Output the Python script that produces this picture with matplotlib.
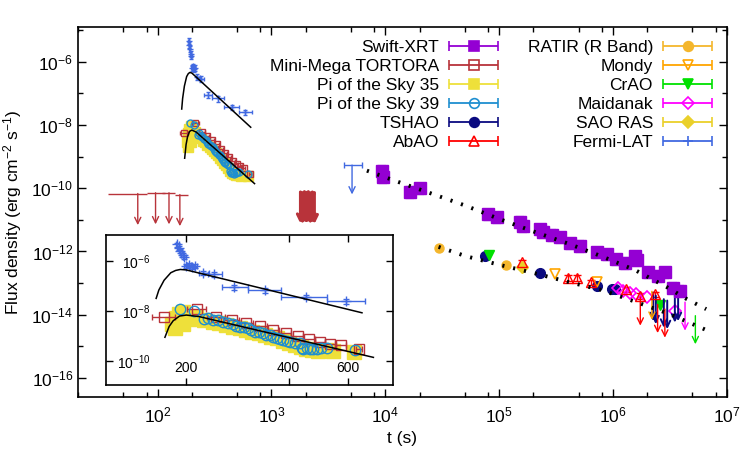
import numpy as np
import matplotlib
matplotlib.use('Agg')
import matplotlib.pyplot as plt
from matplotlib.ticker import (FixedLocator, LogFormatterMathtext, NullLocator,
                               NullFormatter, FixedFormatter)
from matplotlib.container import ErrorbarContainer
from matplotlib.legend_handler import HandlerErrorbar

plt.rcParams['font.family'] = ['Liberation Sans', 'DejaVu Sans']
plt.rcParams['mathtext.default'] = 'regular'
plt.rcParams['axes.unicode_minus'] = False

#========== DATA ==========#

# Fermi-LAT (early prompt / afterglow)
lat_t = [188, 190, 192, 195, 197, 200, 204, 208, 212, 224, 242, 277, 341, 449, 591]
lat_f = [4.6e-6, 3.4e-6, 2.6e-6, 1.8e-6, 1.5e-6, 6.5e-7, 7.2e-7, 5.8e-7, 6.5e-7,
         3.4e-7, 2.9e-7, 8.9e-8, 6.9e-8, 3.7e-8, 2.5e-8]
lat_tlo = [2, 2, 2, 2, 2, 3, 3, 3, 3, 6, 11, 23, 38, 68, 73]
lat_thi = [2, 2, 2, 2, 2, 3, 3, 3, 3, 10, 12, 26, 40, 69, 82]
lat_ferr = [0.9e-6, 0.7e-6, 0.5e-6, 0.35e-6, 0.3e-6, 1.3e-7, 1.4e-7, 1.2e-7, 1.3e-7,
            0.7e-7, 0.6e-7, 1.8e-8, 1.4e-8, 0.7e-8, 0.5e-8]
lat_ul_t = [5110]
lat_ul_f = [5.4e-10]
lat_ul_tlo = [810]
lat_ul_thi = [1140]

# Mini-Mega TORTORA
mmt_t = [172, 215, 245, 272, 300, 330, 360, 392, 425, 460, 495, 530, 570, 645]
mmt_f = [5.6e-9, 1.2e-8, 6.0e-9, 4.5e-9, 3.3e-9, 2.5e-9, 1.8e-9, 1.3e-9, 1.0e-9,
         7.5e-10, 6.0e-10, 5.0e-10, 4.3e-10, 2.9e-10]
mmt_terr = [13, 14, 15, 13, 15, 15, 15, 16, 17, 18, 17, 18, 20, 15]
mmt_ul_t = [67, 96, 126, 157]
mmt_ul_f = [6.8e-11, 7.2e-11, 7.2e-11, 6.3e-11]
mmt_ul_tlo = [30, 15, 16, 16]
mmt_ul_thi = [14, 20, 15, 29]
mmt_ul2_t = [1800, 1875, 1950, 2030, 2110, 2200, 2290, 2385]
mmt_ul2_f = [7.6e-11, 7.2e-11, 7.8e-11, 7.4e-11, 7.8e-11, 7.2e-11, 7.6e-11, 7.3e-11]

# Pi of the Sky
p35_t = [181, 185, 186, 190, 195, 196, 203, 214, 226, 239, 250, 262, 274, 287, 300, 313,
         327, 340, 355, 370, 385, 400, 418, 435, 450, 470, 490, 515, 540, 625]
p35_f = [3.0e-9, 2.0e-9, 5.5e-9, 7.5e-9, 3.0e-9, 9.0e-9, 5.0e-9, 6.0e-9, 4.2e-9, 3.8e-9,
         3.2e-9, 2.8e-9, 2.4e-9, 2.0e-9, 1.8e-9, 1.5e-9, 1.3e-9, 1.1e-9, 9.0e-10, 8.0e-10,
         6.5e-10, 5.5e-10, 4.5e-10, 3.5e-10, 3.0e-10, 2.8e-10, 2.6e-10, 2.7e-10, 2.5e-10, 2.4e-10]
p39_t = [191, 211, 226, 232, 239, 248, 256, 265, 274, 280, 287, 295, 304, 311, 318, 327,
         336, 344, 352, 360, 369, 378, 386, 395, 404, 418, 432, 437, 442, 452, 462, 472,
         484, 500, 518, 628]
p39_f = [1.2e-8, 1.0e-8, 5.0e-9, 5.5e-9, 4.5e-9, 4.2e-9, 3.6e-9, 3.3e-9, 3.0e-9, 2.6e-9,
         2.4e-9, 2.2e-9, 2.0e-9, 1.8e-9, 1.5e-9, 1.45e-9, 1.3e-9, 1.15e-9, 1.1e-9, 9.5e-10,
         8.6e-10, 7.8e-10, 7.0e-10, 6.3e-10, 6.0e-10, 5.5e-10, 5.2e-10, 3.4e-10, 3.0e-10,
         3.3e-10, 3.1e-10, 2.9e-10, 3.0e-10, 3.2e-10, 3.3e-10, 2.8e-10]

# Swift-XRT
xrt_t = [9300, 9500, 16600, 20300, 80600, 95400, 1.52e5, 1.62e5, 2.3e5, 2.45e5, 2.9e5,
         3.4e5, 4.2e5, 5.1e5, 7.2e5, 8.8e5, 1.07e6, 1.27e6, 1.55e6, 1.62e6, 2.05e6, 2.5e6,
         2.86e6, 3.4e6, 3.9e6]
xrt_f = [3.5e-10, 2.2e-10, 7.6e-11, 1.0e-10, 1.5e-11, 1.2e-11, 8.5e-12, 6.5e-12, 5.0e-12,
         4.0e-12, 3.3e-12, 2.8e-12, 1.8e-12, 1.5e-12, 9.3e-13, 8.2e-13, 5.6e-13, 4.4e-13,
         7.0e-13, 5.5e-13, 2.2e-13, 1.7e-13, 2.2e-13, 7.2e-14, 5.6e-14]
xrt_ferr_frac = 0.3

# late optical
ratir_t = [2.94e4, 1.15e5]
ratir_f = [1.26e-12, 3.7e-13]
tshao_t = [7.5e4, 2.3e5, 7.2e5, 9.8e5, 1.05e6]
tshao_f = [7.2e-13, 2.1e-13, 8.2e-14, 6.7e-14, 6.3e-14]
tshao_ul_t = [2.26e6, 2.38e6, 2.8e6, 3.0e6, 3.5e6, 3.74e6]
tshao_ul_f = [5.0e-14, 4.0e-14, 3.1e-14, 2.8e-14, 4.5e-14, 5.0e-14]
crao_t = [8.1e4, 2.6e6]
crao_f = [7.6e-13, 2.1e-14]
crao_ul_t = [5.3e6]
crao_ul_f = [9.3e-15]
abao_t = [1.58e5, 4.0e5, 4.8e5, 6.4e5, 1.3e6, 1.74e6, 2.35e6]
abao_f = [4.5e-13, 1.5e-13, 1.5e-13, 1.05e-13, 6.3e-14, 4.0e-14, 4.4e-14]
abao_ul_t = [1.74e6, 2.47e6, 2.86e6]
abao_ul_f = [3.6e-14, 2.1e-14, 1.5e-14]
mondy_t = [3.1e5, 7.2e5]
mondy_f = [2.0e-13, 1.1e-13]
mondy_ul_t = [2.2e6]
mondy_ul_f = [5.5e-14]
sao_t = [1.6e5]
sao_f = [3.3e-13]
maid_t = [1.11e6, 1.23e6, 1.4e6, 1.6e6, 2.0e6, 3.5e6]
maid_f = [7.2e-14, 5.6e-14, 5.0e-14, 4.4e-14, 3.6e-14, 1.3e-14]
maid_ul_t = [4.3e6]
maid_ul_f = [2.5e-14]

# model curves
lat_mod_t = [163, 166, 172, 180, 186, 192, 200, 658]
lat_mod_f = [3.2e-8, 6.9e-8, 1.7e-7, 3.4e-7, 4.2e-7, 4.6e-7, 4.4e-7, 8.5e-9]
opt_mod_t = [173, 178, 183, 191, 200, 218, 711]
opt_mod_f = [8.9e-10, 2.4e-9, 4.1e-9, 6.3e-9, 6.9e-9, 6.0e-9, 1.4e-10]
xrt_mod_t = [6900, 12900, 25700, 50900, 1.0e5, 2.0e5, 4.0e5, 7.9e5, 1.56e6, 3.1e6, 4.4e6, 6.6e6]
xrt_mod_f = [3.6e-10, 1.6e-10, 6.7e-11, 2.8e-11, 1.07e-11, 4.3e-12, 1.8e-12, 7.1e-13,
             2.6e-13, 6.9e-14, 3.2e-14, 1.5e-14]
optl_mod_t = [2.94e4, 5.1e4, 1.0e5, 2.0e5, 4.0e5, 7.9e5, 1.56e6, 3.1e6, 7.3e6]
optl_mod_f = [1.4e-12, 7.1e-13, 3.8e-13, 2.1e-13, 1.1e-13, 6.1e-14, 2.6e-14, 1.07e-14, 2.8e-15]

# colours
C_XRT = '#9400d3'
C_MMT = '#b8333a'
C_P35 = '#eee03a'
C_P39 = '#1f8fd0'
C_TSHAO = '#0a0a80'
C_ABAO = '#ff0000'
C_RATIR = '#f4b62c'
C_MONDY = '#ffa500'
C_CRAO = '#00e000'
C_MAID = '#ff00ff'
C_SAO = '#ead02a'
C_LAT = '#4169e1'

#======== FUNCTIONS =========#


def upper_limits(axes, times, fluxes, color, lw=1.0, drop=8.0):
    """
        Fleches de limites superieures
    """
    for t_i, f_i in zip(times, fluxes):
        axes.annotate('', xy=(t_i, f_i / drop), xytext=(t_i, f_i),
                      arrowprops=dict(arrowstyle='->,head_length=0.45,head_width=0.22',
                                      color=color, lw=lw, shrinkA=0, shrinkB=0))


def early_data(axes, big):
    """
        Donnees precoces (graphe principal et encart)
    """
    scale = 1.5 if big else 1.0
    axes.errorbar(lat_t, lat_f, xerr=[lat_tlo, lat_thi], yerr=lat_ferr, fmt='+',
                  color=C_LAT, ms=5 * scale, lw=1, capsize=1.5 * scale, zorder=3)
    axes.plot(p35_t, p35_f, 's', color=C_P35, ms=6.5 * scale, zorder=2)
    axes.errorbar(mmt_t, mmt_f, xerr=mmt_terr, fmt='s', mfc='none', color=C_MMT,
                  ms=5 * scale, lw=1, capsize=1.5 * scale, zorder=3)
    axes.plot(p39_t, p39_f, 'o', mfc='none', color=C_P39, ms=5 * scale, mew=1.0, zorder=4)
    axes.plot(lat_mod_t, lat_mod_f, '-', color='black', lw=1.1, zorder=5)
    axes.plot(opt_mod_t, opt_mod_f, '-', color='black', lw=1.1, zorder=5)


#========== PLOT ==========#

fig = plt.figure(figsize=(7.5, 4.5), dpi=100)
ax = fig.add_axes([0.104, 0.118, 0.865, 0.822])
ax.set_xscale('log')
ax.set_yscale('log')

early_data(ax, False)

# upper limits
ax.errorbar(mmt_ul_t, mmt_ul_f, xerr=[mmt_ul_tlo, mmt_ul_thi], fmt='none', color=C_MMT, lw=1)
upper_limits(ax, mmt_ul_t, mmt_ul_f, C_MMT, drop=10.0)
ax.errorbar(mmt_ul2_t, mmt_ul2_f, xerr=40, fmt='none', color=C_MMT, lw=2)
upper_limits(ax, mmt_ul2_t, mmt_ul2_f, C_MMT, lw=2.2, drop=10.0)
ax.errorbar(lat_ul_t, lat_ul_f, xerr=[lat_ul_tlo, lat_ul_thi], fmt='none', color=C_LAT,
            lw=1, capsize=2)
upper_limits(ax, lat_ul_t, lat_ul_f, C_LAT, drop=8.5)

# late data
ax.errorbar(xrt_t, xrt_f, yerr=[xrt_ferr_frac * f for f in xrt_f], fmt='s', color=C_XRT,
            ms=8.5, lw=3.5, capsize=3, capthick=3, zorder=3)
ax.plot(ratir_t, ratir_f, 'o', color=C_RATIR, ms=6.5, zorder=3)
ax.plot(tshao_t, tshao_f, 'o', color=C_TSHAO, ms=7, zorder=3)
ax.plot(crao_t, crao_f, 'v', color=C_CRAO, ms=7, zorder=3)
ax.errorbar(abao_t, abao_f, yerr=[0.2 * f for f in abao_f], fmt='^', mfc='none',
            color=C_ABAO, ms=6.5, lw=1, capsize=3, zorder=3)
ax.plot(mondy_t, mondy_f, 'v', mfc='none', color=C_MONDY, ms=6.5, mew=1.2, zorder=3)
ax.plot(sao_t, sao_f, 'D', color=C_SAO, ms=6, zorder=3)
ax.plot(maid_t, maid_f, 'D', mfc='none', color=C_MAID, ms=6, mew=1.2, zorder=3)
upper_limits(ax, tshao_ul_t, tshao_ul_f, C_TSHAO, lw=1.4)
upper_limits(ax, abao_ul_t, abao_ul_f, C_ABAO)
upper_limits(ax, mondy_ul_t, mondy_ul_f, C_MONDY)
upper_limits(ax, maid_ul_t, maid_ul_f, C_MAID)
upper_limits(ax, crao_ul_t, crao_ul_f, C_CRAO)

ax.plot(xrt_mod_t, xrt_mod_f, color='black', lw=2.8, dashes=(0.55, 2.3),
        dash_capstyle='butt', zorder=6)
ax.plot(optl_mod_t, optl_mod_f, color='black', lw=2.8, dashes=(0.55, 2.3),
        dash_capstyle='butt', zorder=6)

ax.set_xlim(20, 1e7)
ax.set_ylim(10 ** -16.6, 10 ** -4.9)

decades = [10.0 ** e for e in range(1, 7)]
ax.xaxis.set_major_locator(FixedLocator([10.0 ** e for e in range(2, 8)]))
ax.xaxis.set_minor_locator(FixedLocator([s * d for d in decades for s in (2, 5, 8)]))
ax.xaxis.set_major_formatter(LogFormatterMathtext())
ax.xaxis.set_minor_formatter(NullFormatter())
ax.yaxis.set_major_locator(FixedLocator([10.0 ** e for e in range(-16, -5, 2)]))
ax.yaxis.set_minor_locator(FixedLocator([10.0 ** e for e in range(-17, -4, 2)]))
ax.yaxis.set_major_formatter(LogFormatterMathtext())
ax.yaxis.set_minor_formatter(NullFormatter())
ax.tick_params(which='both', direction='in', top=True, right=True, labelsize=12.5, width=1)
ax.tick_params(which='major', length=6)
ax.tick_params(which='minor', length=3.5)
ax.tick_params(axis='x', pad=6)
for spine in ax.spines.values():
    spine.set_linewidth(1.2)

ax.set_xlabel('t (s)', fontsize=12.5, labelpad=4)
ax.set_ylabel('Flux density (erg cm$^{-2}$ s$^{-1}$)', fontsize=12.5, labelpad=5)

# legend proxies
entries = [('Swift-XRT', 's', C_XRT, True), ('Mini-Mega TORTORA', 's', C_MMT, False),
           ('Pi of the Sky 35', 's', C_P35, True), ('Pi of the Sky 39', 'o', C_P39, False),
           ('TSHAO', 'o', C_TSHAO, True), ('AbAO', '^', C_ABAO, False),
           ('RATIR (R Band)', 'o', C_RATIR, True), ('Mondy', 'v', C_MONDY, False),
           ('CrAO', 'v', C_CRAO, True), ('Maidanak', 'D', C_MAID, False),
           ('SAO RAS', 'D', C_SAO, True), ('Fermi-LAT', '+', C_LAT, True)]
handles = []
for label, mark, col, filled in entries:
    h = ax.errorbar([np.nan], [np.nan], xerr=[1], fmt=mark, color=col,
                    mfc=col if filled else 'none', ms=7 if mark != 'D' else 6,
                    mew=1.2, lw=1.3, capsize=3.5, label=label)
    handles.append(h)

ax.legend(handles=handles, ncol=2, loc='upper right', markerfirst=False,
          bbox_to_anchor=(712 / 750, 1 - 40 / 450), bbox_transform=fig.transFigure,
          frameon=False, fontsize=12.5, borderpad=0, borderaxespad=0,
          handlelength=2.8, handletextpad=0.6, columnspacing=1.7, labelspacing=0.22,
          handler_map={ErrorbarContainer: HandlerErrorbar(xerr_size=1.4)})

# inset
axin = fig.add_axes([0.1413, 0.1444, 0.3827, 0.3333])
axin.set_xscale('log')
axin.set_yscale('log')
early_data(axin, True)
axin.set_xlim(116, 812)
axin.set_ylim(10 ** -10.96, 10 ** -4.96)
axin.xaxis.set_major_locator(FixedLocator([200, 400, 600]))
axin.xaxis.set_major_formatter(FixedFormatter(['200', '400', '600']))
axin.xaxis.set_minor_locator(NullLocator())
axin.xaxis.set_minor_formatter(NullFormatter())
axin.yaxis.set_major_locator(FixedLocator([1e-10, 1e-8, 1e-6]))
axin.yaxis.set_major_formatter(LogFormatterMathtext())
axin.yaxis.set_minor_locator(NullLocator())
axin.yaxis.set_minor_formatter(NullFormatter())
axin.tick_params(direction='in', top=True, right=True, length=5, width=1, labelsize=10)
axin.tick_params(axis='x', pad=-17)
axin.tick_params(axis='y', pad=-32)
for spine in axin.spines.values():
    spine.set_linewidth(1.2)

fig.savefig('out.png', dpi=100)
